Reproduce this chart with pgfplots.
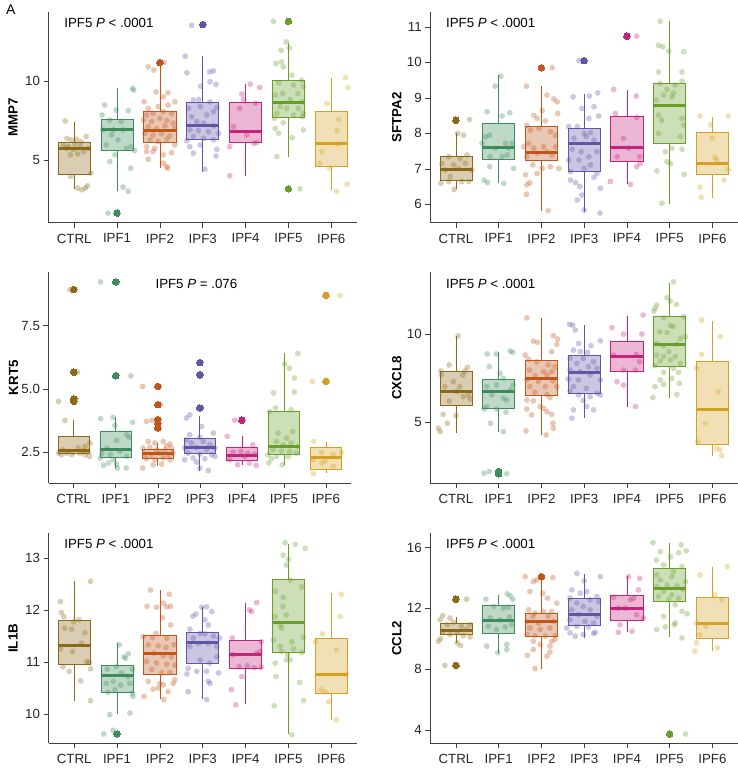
\documentclass[border=0pt]{standalone}
\usepackage{fontspec}
\setmainfont{Liberation Sans}
\usepackage{pgfplots}
\pgfplotsset{compat=1.18}
\usepgfplotslibrary{statistics}

\definecolor{c0}{RGB}{140,105,25}
\definecolor{c1}{RGB}{62,140,92}
\definecolor{c2}{RGB}{192,86,26}
\definecolor{c3}{RGB}{96,86,168}
\definecolor{c4}{RGB}{194,36,124}
\definecolor{c5}{RGB}{104,158,42}
\definecolor{c6}{RGB}{214,160,34}

\newcommand{\fs}{\fontsize{13.3}{16}\selectfont}

% box: colour, position, lower whisker, lower quartile, median, upper quartile, upper whisker
\newcommand{\bx}[7]{\addplot[draw=#1, line width=0.75pt, fill=#1, fill opacity=0.33,
  boxplot/draw/median/.code={\draw[line width=3pt, draw=#1]
    (boxplot box cs:\pgfplotsboxplotvalue{median},0) -- (boxplot box cs:\pgfplotsboxplotvalue{median},1);},
  boxplot prepared={draw direction=y, draw position=#2, lower whisker=#3, lower quartile=#4, median=#5,
  upper quartile=#6, upper whisker=#7, box extend=0.75, whisker extend=0}] coordinates {};}
% jittered points
\newcommand{\pts}[2]{\addplot[only marks, mark=*, mark size=2.9pt,
  mark options={draw=#1, fill=#1, draw opacity=0, fill opacity=0.33}] coordinates {#2};}
% outliers
\newcommand{\outl}[2]{\addplot[only marks, mark=*, mark size=3.3pt,
  mark options={draw=#1, fill=#1, line width=0pt}] coordinates {#2};}

\pgfplotsset{
  panel/.style={
    scale only axis, anchor=south west, clip=false,
    xmin=0.4, xmax=7.6,
    xtick={1,2,3,4,5,6,7},
    xticklabels={CTRL,IPF1,IPF2,IPF3,IPF4,IPF5,IPF6},
    axis x line*=bottom, axis y line*=left,
    axis line style={-, line width=0.6pt, black!75},
    major tick style={line width=0.6pt, black!75},
    tick align=outside, major tick length=5pt, minor tick num=0,
    ticklabel style={font=\fs, text=black!85},
    xticklabel style={yshift=-2.5pt},
    /pgf/number format/assume math mode=true,
    ylabel style={font=\fs\bfseries, anchor=center},
  },
  leftcol/.style={ylabel style={at={(axis description cs:-0.115,0.5)}}},
  rightcol/.style={ylabel style={at={(axis description cs:-0.109,0.5)}}},
}

\begin{document}
\begin{tikzpicture}

\node[anchor=west, font=\fontsize{14}{16}\selectfont] at (2.5pt,-10pt) {A};

% ---------------- MMP7
\begin{axis}[panel, leftcol, at={(48.5pt,-222.7pt)}, width=308.5pt, height=211pt,
  ymin=1.01, ymax=14.41, ytick={5,10}, ylabel={MMP7}]
\bx{c0}{1}{3.16}{4.11}{5.70}{6.10}{7.43}
\bx{c1}{2}{3.00}{5.61}{6.96}{7.59}{9.54}
\bx{c2}{3}{4.51}{6.10}{6.86}{8.10}{10.95}
\bx{c3}{4}{4.26}{6.31}{7.19}{8.63}{11.58}
\bx{c4}{5}{3.99}{6.10}{6.79}{8.67}{9.81}
\bx{c5}{6}{5.21}{7.68}{8.67}{10.06}{12.45}
\bx{c6}{7}{3.06}{4.58}{6.03}{8.06}{10.17}
\pts{c0}{(0.79,7.47)(0.83,6.37)(0.93,6.27)(1.05,6.31)(1.16,6.16)(1.28,6.48)(0.75,5.95)(0.87,5.84)(1.02,6.01)(1.14,5.84)(1.33,5.74)(0.91,5.32)(1.08,5.38)(1.22,5.53)(1.39,4.16)(0.92,3.95)(1.08,3.21)(1.18,3.10)(1.26,3.21)(1.31,3.35)(0.83,5.74)(0.98,5.67)}
\pts{c1}{(1.71,8.48)(1.98,8.16)(2.26,8.12)(2.36,9.54)(2.39,9.43)(1.65,7.85)(1.83,7.53)(2.10,7.43)(1.67,6.90)(1.91,6.90)(2.14,6.90)(2.22,5.74)(2.33,5.84)(2.41,5.59)(1.95,5.32)(1.83,4.89)(2.32,4.47)(2.14,3.27)(2.26,3.00)(1.79,1.62)(1.87,6.58)(2.02,6.27)(1.75,5.95)}
\pts{c2}{(2.73,10.91)(2.86,10.70)(3.00,11.18)(3.10,11.18)(2.63,8.69)(3.35,8.69)(2.91,9.32)(3.19,9.26)(3.08,9.00)(2.73,8.27)(2.96,8.38)(3.19,8.48)(2.69,7.85)(2.84,7.95)(3.08,8.06)(3.27,7.95)(2.61,7.53)(2.81,7.43)(3.00,7.64)(3.16,7.49)(3.31,7.32)(2.73,7.11)(2.92,7.00)(3.12,7.15)(3.35,7.00)(2.65,6.69)(2.84,6.58)(3.04,6.65)(3.23,6.52)(2.77,6.27)(2.96,6.16)(3.16,6.31)(3.35,5.95)(2.69,5.84)(2.88,5.74)(2.69,5.53)(2.84,5.53)(3.08,5.32)(3.27,5.46)(2.73,5.04)(3.08,4.79)(3.16,4.58)(3.18,4.47)}
\pts{c3}{(3.59,11.58)(3.63,10.53)(4.16,10.59)(4.25,10.65)(4.17,9.96)(4.31,9.79)(3.95,9.68)(3.74,13.55)(3.78,8.80)(3.91,8.84)(4.17,8.69)(4.33,8.33)(3.67,8.27)(3.94,8.38)(4.25,8.06)(3.74,7.74)(4.09,7.85)(3.86,7.43)(4.02,7.32)(4.25,7.15)(3.70,6.90)(3.90,6.86)(4.13,6.79)(4.37,6.69)(3.63,6.22)(3.78,6.48)(4.02,6.37)(4.25,6.27)(3.70,5.84)(3.94,5.95)(4.33,5.67)(3.78,5.42)(4.31,5.25)(4.05,4.41)}
\pts{c4}{(5.11,9.81)(5.33,9.60)(4.91,9.18)(4.95,8.84)(5.23,8.59)(4.86,8.27)(4.72,7.11)(5.03,6.58)(5.26,6.10)(4.63,5.84)(4.63,3.99)(5.19,6.05)}
\pts{c5}{(5.65,13.80)(5.95,12.49)(5.83,11.96)(6.02,12.11)(5.71,11.12)(5.84,11.22)(5.88,10.91)(6.08,10.38)(6.31,10.06)(5.77,9.89)(6.12,9.75)(6.35,9.64)(5.87,9.22)(6.22,9.22)(5.69,9.11)(6.04,8.84)(6.31,8.69)(5.81,8.38)(5.96,8.27)(6.23,8.27)(5.73,7.95)(6.12,7.85)(6.35,7.95)(5.67,7.64)(5.88,7.36)(6.33,7.74)(5.69,7.00)(6.35,6.90)(5.77,6.69)(6.09,6.41)(5.73,5.21)(6.27,3.16)}
\pts{c6}{(6.90,8.59)(7.33,10.23)(7.39,9.60)(7.17,7.57)(7.13,6.86)(7.15,6.01)(6.78,5.53)(6.73,4.79)(6.96,4.47)(7.13,3.00)(7.37,3.46)}
\outl{c1}{(2,1.62)}
\outl{c2}{(3,11.18)}
\outl{c3}{(4,13.59)}
\outl{c5}{(6,13.80)(6,3.16)}
\node[anchor=west, font=\fs] at (rel axis cs:0.04,0.945) {IPF5 \textit{P} < .0001};
\end{axis}

% ---------------- SFTPA2
\begin{axis}[panel, rightcol, at={(430.3pt,-222.7pt)}, width=307.7pt, height=211pt,
  ymin=5.48, ymax=11.43, ytick={6,7,8,9,10,11}, ylabel={SFTPA2}]
\bx{c0}{1}{6.42}{6.68}{6.98}{7.34}{8.02}
\bx{c1}{2}{6.59}{7.27}{7.61}{8.28}{9.64}
\bx{c2}{3}{5.82}{7.23}{7.45}{8.19}{9.33}
\bx{c3}{4}{5.77}{6.92}{7.70}{8.14}{9.12}
\bx{c4}{5}{6.56}{7.20}{7.60}{8.49}{9.22}
\bx{c5}{6}{6.01}{7.72}{8.78}{9.41}{11.16}
\bx{c6}{7}{6.19}{6.84}{7.15}{8.03}{8.47}
\pts{c0}{(1.32,8.39)(1.04,8.00)(1.18,7.95)(0.83,7.34)(1.10,7.29)(1.26,7.39)(0.67,7.15)(0.95,7.11)(1.22,7.15)(0.75,6.97)(1.06,7.01)(1.37,6.97)(0.87,6.78)(1.30,6.64)(1.14,6.64)(0.65,6.59)(0.96,6.42)(0.83,6.64)}
\pts{c1}{(2.05,9.61)(1.92,9.33)(1.73,8.61)(2.26,8.58)(2.08,8.49)(1.79,7.95)(1.69,7.90)(1.61,7.72)(2.16,7.72)(2.31,7.72)(1.92,7.58)(2.23,7.58)(1.80,7.34)(2.08,7.34)(2.35,7.01)(1.79,7.06)(1.66,6.68)(1.74,6.61)(2.12,6.59)(2.20,7.39)}
\pts{c2}{(2.65,9.33)(3.25,9.85)(2.82,8.51)(3.02,8.64)(3.29,8.97)(3.37,8.89)(3.38,8.56)(3.13,9.08)(2.90,8.42)(3.09,8.35)(2.66,8.23)(2.74,8.09)(2.94,8.14)(3.21,8.05)(3.33,7.95)(2.59,7.62)(2.70,7.72)(2.82,7.58)(3.05,7.62)(3.33,7.62)(2.90,7.44)(3.13,7.48)(3.25,7.39)(2.66,7.34)(2.80,7.11)(3.02,7.01)(3.21,7.06)(3.41,7.01)(2.63,6.83)(2.73,6.61)(2.65,6.28)(2.66,6.55)(3.16,5.82)(2.90,6.87)}
\pts{c3}{(3.88,10.05)(3.74,9.03)(4.12,9.05)(4.32,9.14)(3.95,8.70)(4.23,8.75)(4.11,8.42)(4.34,8.49)(3.84,8.19)(3.64,8.19)(4.00,8.00)(4.15,8.02)(3.76,7.86)(4.05,7.91)(4.23,7.81)(3.72,7.55)(3.93,7.48)(4.30,7.48)(4.11,7.34)(3.64,7.25)(3.88,7.25)(4.15,7.11)(3.68,6.92)(4.00,7.01)(4.30,6.87)(3.80,6.61)(3.90,6.50)(4.38,6.45)(3.95,6.26)(3.68,6.68)(4.23,6.76)(4.00,5.84)(4.37,5.75)(3.84,6.12)}
\pts{c4}{(5.23,10.74)(4.69,9.24)(5.22,9.05)(4.73,8.56)(5.23,8.45)(4.92,7.86)(5.04,7.58)(4.77,7.34)(5.30,7.34)(5.23,7.06)(4.61,6.64)(5.08,6.56)(5.31,7.15)}
\pts{c5}{(5.78,11.16)(5.74,10.48)(5.84,10.44)(5.98,10.32)(6.33,10.30)(5.74,9.73)(6.29,9.73)(5.78,9.41)(6.29,9.47)(5.94,9.24)(6.09,9.14)(5.86,9.08)(6.05,9.03)(5.69,8.94)(6.13,9.36)(5.74,8.51)(5.82,8.37)(6.29,8.42)(6.33,8.23)(5.74,8.00)(6.25,7.91)(6.05,7.58)(6.29,7.55)(5.90,7.48)(5.94,7.20)(6.02,7.15)(5.70,6.94)(6.34,6.84)(5.82,6.03)}
\pts{c6}{(6.71,8.49)(7.37,8.49)(6.96,8.23)(7.00,7.86)(7.06,7.32)(7.10,7.25)(7.37,6.98)(7.27,6.68)(6.71,6.48)(6.74,6.19)}
\outl{c0}{(1,8.37)}
\outl{c2}{(3,9.85)}
\outl{c3}{(4,10.05)}
\outl{c4}{(5,10.74)}
\node[anchor=west, font=\fs] at (rel axis cs:0.04,0.945) {IPF5 \textit{P} < .0001};
\end{axis}

% ---------------- KRT5
\begin{axis}[panel, leftcol, at={(48.5pt,-483.3pt)}, width=302.7pt, height=211pt,
  ymin=1.28, ymax=9.6, ytick={2.5,5,7.5}, ylabel={KRT5},
  yticklabel style={/pgf/number format/.cd, fixed, fixed zerofill, precision=1}]
\bx{c0}{1}{2.41}{2.47}{2.58}{3.13}{3.76}
\bx{c1}{2}{1.90}{2.30}{2.60}{3.33}{3.89}
\bx{c2}{3}{1.95}{2.28}{2.45}{2.60}{2.87}
\bx{c3}{4}{1.75}{2.45}{2.70}{3.06}{3.92}
\bx{c4}{5}{1.99}{2.17}{2.38}{2.70}{3.13}
\bx{c5}{6}{2.01}{2.41}{2.74}{4.11}{6.40}
\bx{c6}{7}{1.69}{1.82}{2.30}{2.71}{2.91}
\pts{c0}{(0.64,4.51)(0.91,8.92)(1.09,5.66)(0.79,3.76)(1.06,4.61)(0.64,2.47)(0.71,2.41)(0.83,2.47)(0.95,2.41)(1.15,2.47)(1.27,2.41)(1.35,2.54)(1.39,2.87)(1.27,2.74)(1.11,2.67)(0.75,2.60)(0.87,2.54)(1.23,2.57)(1.37,2.34)}
\pts{c1}{(1.64,9.22)(2.36,5.52)(1.64,3.83)(1.94,3.88)(1.98,3.56)(2.40,3.69)(2.26,3.20)(2.32,3.09)(2.02,2.97)(1.79,2.67)(1.67,2.47)(1.87,2.41)(2.10,2.54)(2.26,2.34)(1.94,2.21)(1.71,1.99)(1.83,2.08)(2.02,2.04)(2.04,1.88)(2.25,1.88)(1.63,2.28)}
\pts{c2}{(2.64,5.10)(2.73,3.72)(2.86,3.76)(3.06,4.38)(3.01,3.46)(2.77,2.93)(2.93,2.87)(3.13,2.93)(3.21,2.74)(3.29,2.83)(2.65,2.67)(2.81,2.70)(2.97,2.60)(3.17,2.60)(3.32,2.67)(2.69,2.43)(2.85,2.41)(3.05,2.47)(3.25,2.41)(3.36,2.47)(2.73,2.25)(2.93,2.21)(3.13,2.28)(3.29,2.21)(2.64,1.88)(2.89,2.01)(3.09,2.04)(3.01,3.65)(2.97,3.79)}
\pts{c3}{(3.68,3.85)(3.76,3.98)(4.00,6.04)(3.98,5.56)(4.04,4.25)(4.04,3.52)(3.76,3.20)(3.68,3.00)(4.00,3.09)(4.32,3.26)(3.80,2.87)(4.08,2.93)(4.24,2.80)(3.64,2.67)(3.92,2.70)(4.16,2.60)(4.36,2.67)(3.72,2.47)(4.00,2.43)(4.28,2.41)(3.84,2.28)(4.12,2.25)(4.36,2.34)(3.64,2.21)(3.92,2.12)(4.20,1.78)(4.00,1.88)}
\pts{c4}{(4.65,3.13)(4.83,3.77)(5.00,3.77)(5.26,2.80)(4.79,2.51)(4.98,2.54)(5.14,2.47)(5.30,2.43)(4.71,2.21)(4.90,2.01)(5.18,2.08)(5.34,1.99)(5.06,2.34)}
\pts{c5}{(6.33,6.40)(6.02,5.98)(6.13,5.82)(6.25,5.43)(6.25,4.88)(5.75,4.84)(5.80,4.25)(6.17,4.18)(5.66,4.11)(6.21,3.33)(5.86,3.26)(6.06,3.06)(5.82,2.93)(5.98,2.80)(6.17,2.87)(6.33,2.74)(5.74,2.60)(5.94,2.54)(6.13,2.54)(6.29,2.47)(5.62,2.41)(5.82,2.34)(6.10,2.34)(5.64,2.08)(5.96,2.01)(5.70,2.25)}
\pts{c6}{(6.68,5.30)(7.33,8.69)(6.71,2.93)(6.90,2.50)(7.17,2.41)(7.37,2.50)(6.70,2.21)(6.98,2.15)(7.17,1.95)(6.70,1.66)(6.90,2.08)}
\outl{c0}{(1,8.92)(1,5.66)(1,4.61)(1,4.51)}
\outl{c1}{(2,9.22)(2,5.52)}
\outl{c2}{(3,5.10)(3,4.38)(3,3.79)(3,3.65)(3,3.46)}
\outl{c3}{(4,6.04)(4,5.56)(4,4.25)}
\outl{c4}{(5,3.77)}
\outl{c6}{(7,8.69)(7,5.30)}
\node[anchor=west, font=\fs] at (rel axis cs:0.342,0.945) {IPF5 \textit{P} = .076};
\end{axis}

% ---------------- CXCL8
\begin{axis}[panel, rightcol, at={(430.3pt,-483.3pt)}, width=307.7pt, height=211pt,
  ymin=1.54, ymax=13.5, ytick={5,10}, ylabel={CXCL8}]
\bx{c0}{1}{4.38}{5.94}{6.74}{7.87}{9.89}
\bx{c1}{2}{4.47}{5.79}{6.74}{7.43}{9.00}
\bx{c2}{3}{4.28}{6.51}{7.49}{8.53}{10.92}
\bx{c3}{4}{5.23}{6.64}{7.83}{8.81}{10.51}
\bx{c4}{5}{5.89}{7.87}{8.72}{9.60}{11.04}
\bx{c5}{6}{6.40}{8.19}{9.38}{10.98}{12.92}
\bx{c6}{7}{3.11}{3.72}{5.70}{8.43}{10.74}
\pts{c0}{(1.05,9.89)(0.84,8.25)(0.64,7.91)(0.66,7.68)(1.16,7.68)(1.27,8.11)(1.21,7.91)(0.94,7.30)(0.74,7.02)(1.09,7.02)(1.29,6.55)(1.33,6.32)(0.84,6.21)(1.02,6.74)(0.70,5.45)(1.00,5.38)(0.59,4.66)(0.63,4.47)(0.80,4.94)(1.17,6.45)}
\pts{c1}{(1.73,8.87)(1.94,8.87)(2.27,9.04)(2.33,8.96)(1.78,8.15)(2.03,7.77)(2.11,7.49)(2.34,7.11)(1.95,7.11)(1.72,7.02)(2.27,6.83)(1.84,6.55)(2.11,6.36)(2.19,6.26)(1.72,5.89)(1.95,5.75)(1.66,5.75)(2.17,5.57)(1.81,4.94)(2.11,4.47)(1.66,2.11)(1.78,2.21)(2.00,2.11)(2.19,2.08)}
\pts{c2}{(2.66,10.92)(2.81,9.60)(2.91,9.53)(3.28,9.91)(3.38,9.72)(3.36,9.42)(3.24,9.00)(2.62,8.81)(2.70,8.58)(2.89,8.43)(3.16,8.25)(3.32,8.15)(2.72,7.96)(3.05,7.87)(3.24,7.87)(2.85,7.64)(3.13,7.68)(2.66,7.40)(2.93,7.30)(3.27,7.34)(2.73,7.02)(3.09,7.02)(3.36,7.02)(2.85,6.70)(3.13,6.58)(2.66,6.26)(2.81,6.21)(3.20,6.40)(3.05,5.79)(2.66,5.75)(3.13,5.60)(2.77,5.42)(3.24,5.45)(3.27,4.94)(3.28,4.66)(2.64,4.51)(3.11,4.28)(2.97,5.89)}
\pts{c3}{(3.66,10.55)(3.73,10.51)(3.79,10.23)(4.38,9.62)(3.87,9.47)(4.16,9.34)(3.75,9.09)(3.91,9.00)(4.08,8.96)(3.67,8.62)(3.98,8.62)(4.22,8.43)(3.83,8.34)(4.10,8.15)(4.30,8.06)(3.67,7.96)(3.91,7.87)(4.14,7.68)(3.63,7.45)(3.87,7.40)(4.38,7.40)(3.75,7.02)(4.05,6.92)(3.67,6.74)(4.30,6.64)(4.38,6.55)(3.87,6.55)(4.14,6.45)(3.98,6.23)(3.75,5.70)(4.06,5.89)(4.22,5.70)(3.71,5.23)}
\pts{c4}{(4.65,10.36)(5.38,11.08)(4.92,10.00)(5.35,10.00)(5.22,8.85)(4.69,8.81)(5.30,8.43)(4.92,7.96)(4.77,7.30)(4.92,7.11)(5.20,7.96)(5.20,5.89)}
\pts{c5}{(6.09,12.96)(5.94,12.06)(6.02,11.87)(6.16,11.68)(5.70,11.64)(5.66,11.45)(5.63,11.30)(6.33,10.98)(5.86,10.92)(6.02,10.47)(6.08,10.42)(5.77,10.13)(5.94,10.09)(6.37,9.85)(6.25,9.75)(5.70,9.47)(5.86,9.34)(6.17,9.42)(5.98,9.00)(5.70,8.81)(5.86,8.72)(6.13,8.72)(5.78,8.47)(6.02,8.53)(6.25,8.34)(5.66,8.21)(6.09,8.06)(5.86,7.83)(6.21,7.83)(6.05,7.49)(5.78,7.40)(5.86,7.15)(6.23,7.21)(5.66,7.02)(6.17,6.58)(5.61,6.40)}
\pts{c6}{(6.75,10.79)(7.18,9.85)(6.75,8.85)(6.63,8.06)(7.14,6.74)(6.83,4.94)(6.65,3.91)(7.10,3.53)(7.18,3.43)(7.22,3.11)}
\outl{c1}{(2,2.21)(2,2.14)(2,2.08)}
\node[anchor=west, font=\fs] at (rel axis cs:0.04,0.945) {IPF5 \textit{P} < .0001};
\end{axis}

% ---------------- IL1B
\begin{axis}[panel, leftcol, at={(48.5pt,-743.3pt)}, width=308.5pt, height=210pt,
  ymin=9.44, ymax=13.47, ytick={10,11,12,13}, ylabel={IL1B}]
\bx{c0}{1}{10.26}{10.96}{11.31}{11.79}{12.55}
\bx{c1}{2}{10.00}{10.42}{10.75}{10.94}{11.36}
\bx{c2}{3}{10.29}{10.77}{11.16}{11.51}{12.38}
\bx{c3}{4}{10.29}{10.98}{11.38}{11.56}{12.05}
\bx{c4}{5}{10.19}{10.88}{11.14}{11.41}{12.14}
\bx{c5}{6}{9.62}{11.18}{11.76}{12.59}{13.27}
\bx{c6}{7}{9.89}{10.40}{10.77}{11.46}{12.32}
\pts{c0}{(0.68,12.16)(1.38,12.55)(0.70,11.95)(0.76,11.87)(1.11,11.81)(0.99,11.77)(0.78,11.65)(0.94,11.63)(1.25,11.56)(0.68,11.25)(0.96,11.20)(1.29,11.01)(1.35,10.99)(0.74,10.91)(1.38,10.87)(0.88,10.82)(1.15,10.64)(1.38,10.26)(1.17,11.36)}
\pts{c1}{(2.05,11.33)(2.16,11.10)(2.26,11.16)(2.20,11.07)(1.98,10.91)(1.77,10.86)(2.36,10.86)(2.10,10.79)(2.26,10.72)(1.75,10.59)(1.91,10.63)(2.08,10.56)(2.30,10.59)(1.79,10.42)(1.95,10.47)(2.36,10.40)(2.37,10.34)(1.83,9.99)(2.30,10.02)(1.91,9.69)(1.69,9.62)}
\pts{c2}{(2.78,12.38)(3.22,12.30)(2.70,12.07)(2.92,12.05)(3.08,12.13)(3.16,12.06)(3.25,12.07)(3.06,11.85)(3.25,11.71)(2.91,11.55)(2.61,11.49)(2.83,11.47)(3.16,11.46)(2.73,11.33)(2.96,11.31)(3.33,11.33)(3.14,11.28)(2.86,11.17)(3.08,11.12)(3.27,11.10)(2.69,11.01)(2.92,10.98)(3.16,10.96)(3.35,10.94)(2.81,10.86)(3.04,10.79)(3.23,10.80)(2.73,10.63)(3.00,10.59)(3.35,10.66)(3.08,10.56)(2.84,10.48)(2.96,10.50)(3.19,10.43)(2.63,10.34)(3.09,10.28)(3.31,10.59)}
\pts{c3}{(3.77,11.88)(3.84,11.92)(3.98,12.05)(4.09,12.06)(4.21,11.97)(4.05,11.81)(4.13,11.71)(3.70,11.63)(3.94,11.55)(4.05,11.54)(4.25,11.50)(4.39,11.46)(3.78,11.46)(3.90,11.35)(4.13,11.36)(4.33,11.30)(3.70,11.30)(4.33,11.10)(3.94,11.04)(4.16,10.98)(3.66,10.88)(3.63,10.77)(3.86,10.82)(4.09,10.82)(4.37,10.79)(4.13,10.63)(4.17,10.59)(3.66,10.43)(4.09,10.28)}
\pts{c4}{(4.69,11.46)(5.26,12.14)(5.09,12.00)(5.14,11.97)(5.37,11.39)(4.71,11.14)(5.26,11.17)(5.34,11.20)(4.85,10.91)(5.04,10.93)(5.20,10.89)(5.37,10.90)(4.91,10.72)(4.67,10.47)(4.77,10.18)}
\pts{c5}{(5.92,13.29)(6.16,13.26)(6.39,13.18)(5.88,13.05)(6.00,12.97)(5.95,12.86)(6.04,12.57)(5.69,12.36)(6.31,12.44)(5.88,12.24)(5.87,12.07)(5.69,11.87)(5.95,11.90)(5.81,11.71)(5.84,11.65)(6.35,11.47)(6.08,11.39)(5.65,11.42)(5.81,11.30)(6.12,11.25)(6.31,11.18)(5.84,11.20)(5.98,11.14)(5.95,11.04)(5.69,10.98)(6.04,11.04)(5.71,10.72)(6.26,10.61)(6.35,10.26)(5.67,10.16)(6.08,9.60)}
\pts{c6}{(6.80,11.54)(7.21,11.87)(7.23,12.30)(6.63,11.39)(7.12,11.23)(7.35,10.77)(6.76,10.47)(6.86,10.42)(6.94,10.24)(7.12,9.89)}
\outl{c1}{(2,9.62)}
\node[anchor=west, font=\fs] at (rel axis cs:0.04,0.949) {IPF5 \textit{P} < .0001};
\end{axis}

% ---------------- CCL2
\begin{axis}[panel, rightcol, at={(430.3pt,-743.3pt)}, width=307.7pt, height=210pt,
  ymin=3.12, ymax=16.93, ytick={4,8,12,16}, ylabel={CCL2}]
\bx{c0}{1}{9.73}{10.27}{10.55}{10.99}{11.42}
\bx{c1}{2}{9.07}{10.38}{11.21}{12.17}{12.88}
\bx{c2}{3}{8.03}{10.12}{11.14}{11.64}{13.86}
\bx{c3}{4}{10.05}{10.86}{11.62}{12.67}{14.24}
\bx{c4}{5}{10.42}{11.19}{12.01}{12.88}{14.13}
\bx{c5}{6}{10.10}{12.45}{13.28}{14.63}{16.26}
\bx{c6}{7}{9.18}{10.05}{10.99}{12.73}{14.69}
\pts{c0}{(1.25,12.60)(0.86,11.36)(0.69,11.51)(0.63,11.25)(0.94,11.08)(0.80,10.92)(1.13,10.81)(1.33,10.92)(1.25,10.60)(0.70,10.49)(1.03,10.42)(0.86,10.27)(1.33,10.12)(1.17,10.20)(0.64,9.99)(0.59,9.83)(1.03,9.73)(1.11,9.55)(0.74,8.24)}
\pts{c1}{(1.70,12.60)(2.20,12.95)(2.27,12.82)(2.33,12.60)(1.88,12.12)(2.11,12.01)(2.23,12.08)(1.80,11.36)(2.03,11.25)(2.25,11.42)(1.76,10.81)(2.15,10.77)(1.95,10.60)(2.30,10.92)(1.72,9.51)(2.19,9.62)(2.19,9.29)(1.98,9.07)}
\pts{c2}{(2.62,14.08)(3.27,14.02)(2.81,13.76)(2.89,13.86)(2.73,13.10)(3.03,12.99)(3.14,12.67)(3.36,12.34)(2.70,11.90)(2.85,11.69)(3.05,11.79)(3.24,11.79)(2.80,11.47)(3.16,11.47)(2.66,11.14)(2.93,11.03)(3.28,11.14)(2.73,10.71)(2.97,10.60)(3.20,10.71)(2.66,10.27)(2.85,10.20)(3.09,10.16)(3.32,10.20)(2.81,9.83)(3.24,9.83)(2.97,9.62)(3.20,9.51)(2.81,9.29)(2.67,8.90)(3.20,9.12)(2.85,8.03)(3.13,8.85)(3.32,9.94)}
\pts{c3}{(3.83,14.30)(4.38,14.08)(4.00,13.80)(3.71,13.21)(3.91,12.99)(4.06,13.10)(4.30,12.78)(3.67,12.67)(4.14,12.56)(3.83,12.34)(4.34,12.45)(3.98,12.12)(3.71,11.90)(4.14,11.90)(3.87,11.58)(4.30,11.47)(3.67,11.25)(4.02,11.14)(4.22,11.03)(3.59,10.71)(3.83,10.81)(4.10,10.77)(3.67,10.38)(3.98,10.27)(4.26,10.42)(3.79,10.16)(4.22,10.34)}
\pts{c4}{(5.04,14.08)(5.30,13.97)(5.27,13.21)(4.69,12.73)(5.08,12.56)(5.16,12.67)(4.80,12.01)(4.96,12.01)(5.23,11.58)(5.39,11.36)(4.84,10.92)(5.12,10.49)(4.80,10.42)}
\pts{c5}{(5.61,16.31)(6.27,16.17)(5.78,15.72)(6.39,15.78)(6.21,15.65)(6.02,15.39)(5.69,15.17)(5.86,14.85)(6.29,14.74)(6.09,14.41)(5.70,14.19)(6.05,14.08)(5.78,13.86)(6.37,13.76)(5.94,13.54)(6.17,13.47)(5.70,13.43)(6.31,13.25)(5.86,13.10)(6.05,12.88)(5.74,12.78)(6.21,12.67)(5.98,12.56)(6.13,12.23)(6.29,11.80)(6.41,11.64)(5.86,11.47)(6.13,11.03)(5.90,10.77)(6.11,10.92)(5.70,10.60)(6.29,10.05)(6.37,3.73)}
\pts{c6}{(6.71,14.19)(7.35,14.74)(7.06,12.88)(7.22,12.56)(6.63,11.03)(6.85,10.81)(6.71,10.27)(6.63,9.73)(6.59,9.18)(7.12,9.40)}
\outl{c0}{(1,12.60)(1,8.24)}
\outl{c2}{(3,14.08)}
\outl{c5}{(6,3.73)}
\node[anchor=west, font=\fs] at (rel axis cs:0.04,0.949) {IPF5 \textit{P} < .0001};
\end{axis}

\pgfresetboundingbox
\path[use as bounding box] (0pt,0pt) rectangle (738pt,-769pt);
\end{tikzpicture}
\end{document}
